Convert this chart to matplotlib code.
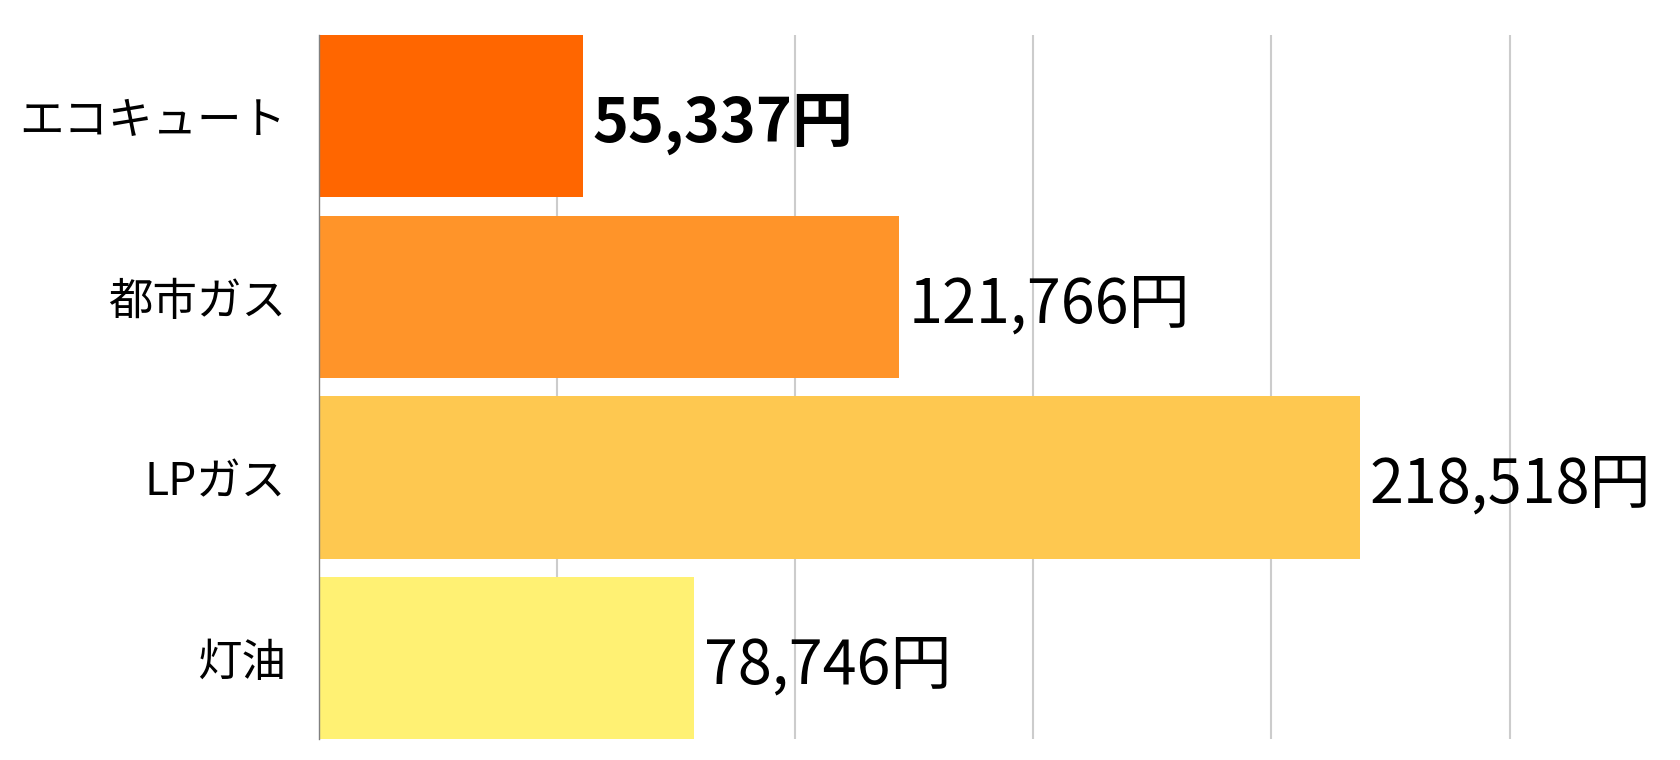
import matplotlib.pyplot as plt

plt.rcParams['font.family'] = ['Noto Sans CJK JP', 'DejaVu Sans']

# data
categories = ['エコキュート', '都市ガス', 'LPガス', '灯油']
costs = [55337, 121766, 218518, 78746]
colors = ['#FF6600', '#FF9429', '#FEC850', '#FFF173']
bold_flags = [True, False, False, False]

fig = plt.figure(figsize=(16.81, 7.6), dpi=100)
ax = fig.add_axes([0.1898, 0.0276, 0.8102, 0.9263])

pos = list(range(len(categories)))
ax.barh(pos, costs, height=0.9, color=colors, zorder=3)

ax.set_ylim(len(categories) - 0.55, -0.45)
ax.set_xlim(0, 286000)

# value labels
for p, v, b in zip(pos, costs, bold_flags):
    ax.annotate(f'{v:,}円', xy=(v, p), xytext=(7, -6), textcoords='offset points',
                ha='left', va='center', fontsize=44,
                fontweight='bold' if b else 'normal', color='black', zorder=4)

ax.set_yticks(pos)
ax.set_yticklabels(categories, fontsize=32)
ax.tick_params(axis='y', length=0, pad=24)
ax.set_xticks([50000, 100000, 150000, 200000, 250000])
ax.tick_params(axis='x', length=0, labelbottom=False)
ax.grid(axis='x', color='#cccccc', linewidth=1.5, zorder=0)

for s in ['top', 'right', 'bottom']:
    ax.spines[s].set_visible(False)
ax.spines['left'].set_color('#808080')
ax.spines['left'].set_linewidth(1)
ax.spines['left'].set_zorder(5)

fig.savefig('out.png', dpi=100)
